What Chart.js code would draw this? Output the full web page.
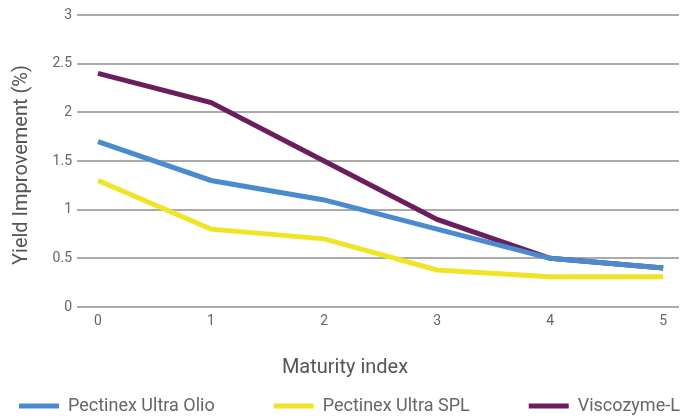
<!DOCTYPE html>
<html>
<head>
<meta charset="utf-8">
<script src="https://cdn.jsdelivr.net/npm/chart.js@4/dist/chart.umd.min.js"></script>
<style>
  html, body { margin: 0; padding: 0; background: #ffffff; }
  #wrap { width: 690px; height: 419px; position: relative; }
</style>
</head>
<body>
<div id="wrap"><canvas id="c" width="690" height="419"></canvas></div>
<script>
// ---- data ----
const maturityIndex = [0, 1, 2, 3, 4, 5];
const olio = [1.7, 1.3, 1.1, 0.8, 0.5, 0.4];
const spl = [1.3, 0.8, 0.7, 0.38, 0.31, 0.31];
const visco = [2.4, 2.1, 1.5, 0.9, 0.5, 0.4];
const seriesNames = ['Pectinex Ultra Olio', 'Pectinex Ultra SPL', 'Viscozyme-L'];
const yTicks = [0, 0.5, 1, 1.5, 2, 2.5, 3];
const xTitle = 'Maturity index';
const yTitle = 'Yield Improvement (%)';

const FONT = 'Roboto, "DejaVu Sans", sans-serif';
const LEGEND_H = 30;
const LEGEND_CENTER_Y = 406;
const LEGEND_FIRST_X = 19;
const X_TITLE_CENTER = 345;
const Y_TITLE_CENTER = 165;

const toPts = (arr) => arr.map((v, i) => ({ x: maturityIndex[i], y: v }));

const layoutFix = {
  id: 'layoutFix',
  beforeLayout(chart) {
    const lg = chart.legend;
    if (lg && !lg._patched) {
      const fit = lg.fit;
      lg.fit = function () {
        const mw = this.maxWidth;
        this.maxWidth = 5000;
        fit.call(this);
        this.maxWidth = mw;
        this.width = mw;
        this.height = LEGEND_H;
      };
      lg._patched = true;
    }
  },
  afterLayout(chart) {
    const lg = chart.legend;
    if (lg) {
      const lab = lg.options.labels;
      lg.top = LEGEND_CENTER_Y - lab.font.size / 2 - lab.padding;
      lg.right = 1200;
      lg.left = 2 * LEGEND_FIRST_X - lab.padding - lg.right + lg.lineWidths[0];
    }
    const sx = chart.scales.x;
    if (sx && !sx._tp) {
      const orig = sx.drawTitle;
      sx.drawTitle = function () {
        const l = this.left, r = this.right;
        const half = Math.min(X_TITLE_CENTER, chart.width - X_TITLE_CENTER);
        this.left = X_TITLE_CENTER - half; this.right = X_TITLE_CENTER + half;
        orig.apply(this, arguments);
        this.left = l; this.right = r;
      };
      sx._tp = true;
    }
    const sy = chart.scales.y;
    if (sy && !sy._tp) {
      const orig = sy.drawTitle;
      sy.drawTitle = function () {
        const t = this.top, b = this.bottom;
        const half = b - Y_TITLE_CENTER;
        this.top = Y_TITLE_CENTER - half; this.bottom = Y_TITLE_CENTER + half;
        orig.apply(this, arguments);
        this.top = t; this.bottom = b;
      };
      sy._tp = true;
    }
  }
};

new Chart(document.getElementById('c'), {
  type: 'line',
  data: {
    datasets: [
      { label: seriesNames[0], data: toPts(olio), borderColor: '#4a8bcf', backgroundColor: '#4a8bcf' },
      { label: seriesNames[1], data: toPts(spl), borderColor: '#efe425', backgroundColor: '#efe425' },
      { label: seriesNames[2], data: toPts(visco), borderColor: '#6a1e5d', backgroundColor: '#6a1e5d' }
    ]
  },
  options: {
    responsive: false,
    animation: false,
    devicePixelRatio: 1,
    layout: { padding: { top: 15, right: 11, bottom: 0, left: 0 } },
    elements: {
      line: { borderWidth: 5, tension: 0, fill: false, borderCapStyle: 'butt', borderJoinStyle: 'miter' },
      point: { radius: 0, hoverRadius: 0 }
    },
    plugins: {
      tooltip: { enabled: false },
      legend: {
        position: 'bottom',
        labels: {
          boxWidth: 40,
          boxHeight: 5,
          padding: 59,
          color: '#666666',
          font: { family: FONT, size: 18 },
          generateLabels(chart) {
            return Chart.defaults.plugins.legend.labels.generateLabels(chart)
              .map(l => Object.assign({}, l, { fillStyle: l.strokeStyle, lineWidth: 0 }));
          }
        }
      }
    },
    scales: {
      x: {
        type: 'linear',
        min: -0.186,
        max: 5.14,
        afterBuildTicks(scale) { scale.ticks = maturityIndex.map(v => ({ value: v })); },
        afterFit(scale) { scale.height = 419 - LEGEND_H - 307; },
        grid: { display: false, drawTicks: false },
        border: { display: false },
        ticks: { color: '#666666', font: { family: FONT, size: 14 }, padding: 6, maxRotation: 0, callback: v => String(v) },
        title: { display: true, text: xTitle, color: '#555555', font: { family: FONT, size: 20 }, padding: { top: 0, bottom: 9 } }
      },
      y: {
        min: 0,
        max: 3,
        afterBuildTicks(scale) { scale.ticks = yTicks.map(v => ({ value: v })); },
        afterFit(scale) { scale.width = 77; },
        grid: { color: '#aaaaaa', lineWidth: 2, drawTicks: false },
        border: { display: false },
        ticks: { color: '#666666', font: { family: FONT, size: 14 }, padding: 5, callback: v => String(v) },
        title: { display: true, text: yTitle, color: '#555555', font: { family: FONT, size: 20 }, padding: { top: 10, bottom: 0 } }
      }
    }
  },
  plugins: [layoutFix]
});
</script>
</body>
</html>
